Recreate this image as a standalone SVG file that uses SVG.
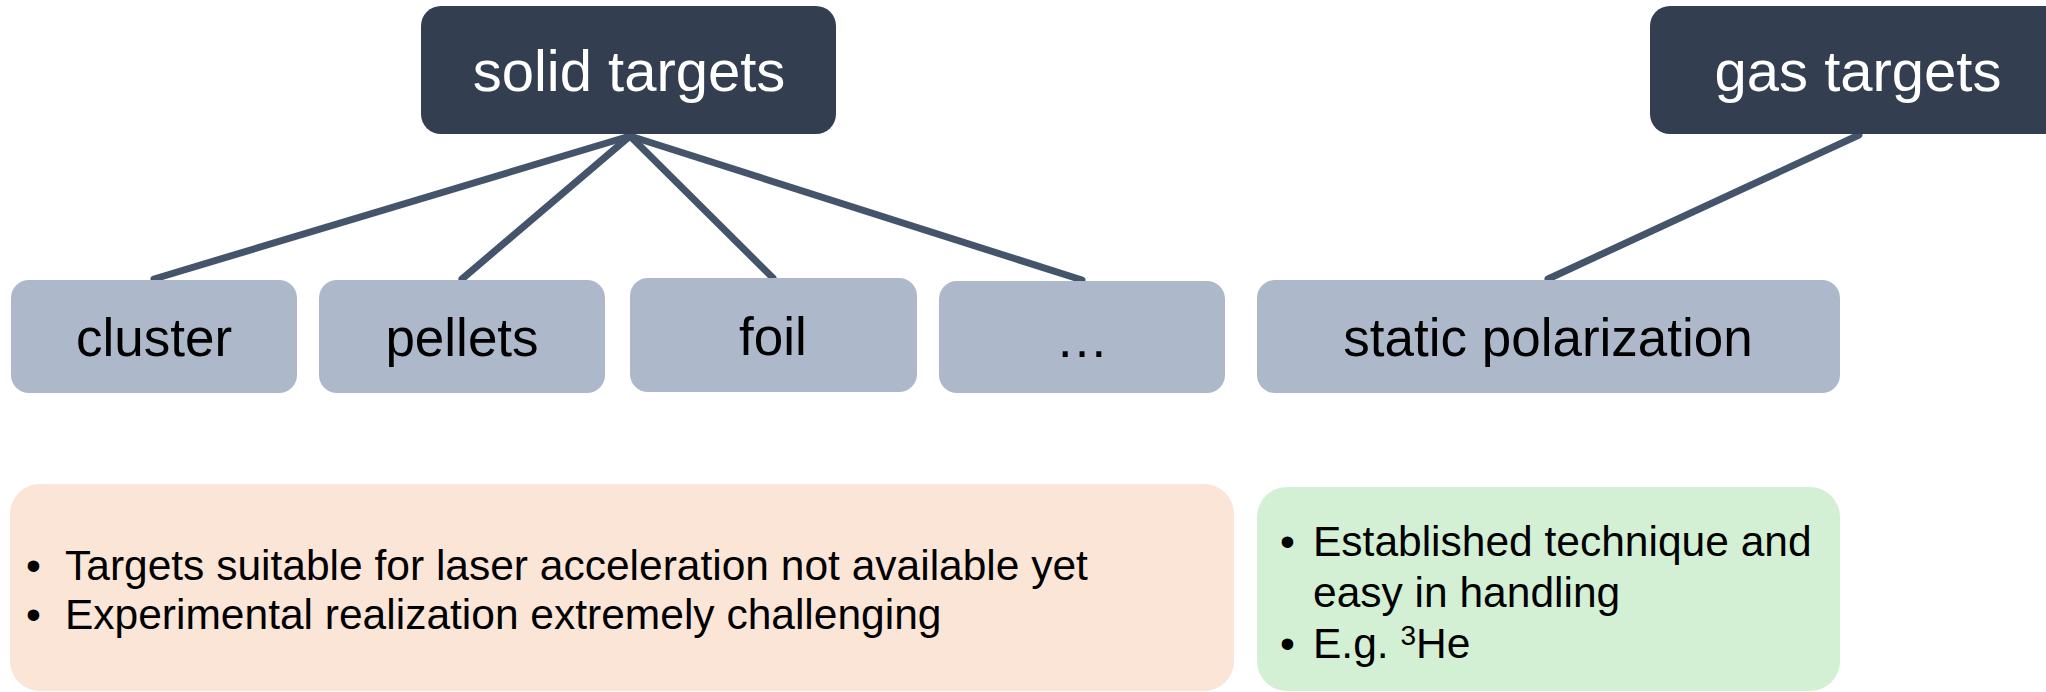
<svg xmlns="http://www.w3.org/2000/svg" width="2046" height="692" viewBox="0 0 2046 692">
<style>
.dark{fill:#333f50}
.light{fill:#adb9ca}
.ht{font-family:"Liberation Sans",Arial,sans-serif;font-size:58px;fill:#ffffff;text-anchor:middle}
.lt{font-family:"Liberation Sans",Arial,sans-serif;font-size:53px;fill:#000000;text-anchor:middle}
.bt{font-family:"Liberation Sans",Arial,sans-serif;font-size:42.5px;fill:#000000}
.conn line{stroke:#44546a;stroke-width:7;stroke-linecap:round}
</style>
<rect width="2046" height="692" fill="#ffffff"/>
<g id="connectors" class="conn">
<line x1="630" y1="136" x2="154" y2="279"/>
<line x1="630" y1="136" x2="462" y2="279"/>
<line x1="630" y1="136" x2="773" y2="278"/>
<line x1="630" y1="136" x2="1082" y2="280"/>
<line x1="1859" y1="135" x2="1548" y2="279"/>
</g>
<g id="solid-targets">
<rect class="dark" x="421" y="6" width="415" height="128" rx="20"/>
<text class="ht" x="629" y="91">solid targets</text>
</g>
<g id="gas-targets">
<rect class="dark" x="1650" y="6" width="416" height="128" rx="20"/>
<text class="ht" x="1858" y="91">gas targets</text>
</g>
<g id="cluster">
<rect class="light" x="11" y="280" width="286" height="113" rx="18"/>
<text class="lt" x="154" y="356">cluster</text>
</g>
<g id="pellets">
<rect class="light" x="319" y="280" width="286" height="113" rx="18"/>
<text class="lt" x="462" y="356">pellets</text>
</g>
<g id="foil">
<rect class="light" x="630" y="278" width="287" height="114" rx="18"/>
<text class="lt" x="773" y="355">foil</text>
</g>
<g id="more">
<rect class="light" x="939" y="281" width="286" height="112" rx="18"/>
<text class="lt" x="1082" y="357">…</text>
</g>
<g id="static-polarization">
<rect class="light" x="1257" y="280" width="583" height="113" rx="18"/>
<text class="lt" x="1548" y="356">static polarization</text>
</g>
<g id="solid-notes">
<rect x="10" y="484" width="1224" height="207" rx="30" fill="#fbe5d6"/>
<text class="bt" x="26" y="580">•</text>
<text class="bt" x="65" y="580">Targets suitable for laser acceleration not available yet</text>
<text class="bt" x="26" y="629">•</text>
<text class="bt" x="65" y="629">Experimental realization extremely challenging</text>
</g>
<g id="gas-notes">
<rect x="1257" y="487" width="583" height="204" rx="30" fill="#d3f0d5"/>
<text class="bt" x="1280" y="556">•</text>
<text class="bt" x="1313" y="556">Established technique and</text>
<text class="bt" x="1313" y="607">easy in handling</text>
<text class="bt" x="1280" y="658">•</text>
<text class="bt" x="1313" y="658">E.g. <tspan font-size="28" dy="-13">3</tspan><tspan dy="13">He</tspan></text>
</g>
</svg>
